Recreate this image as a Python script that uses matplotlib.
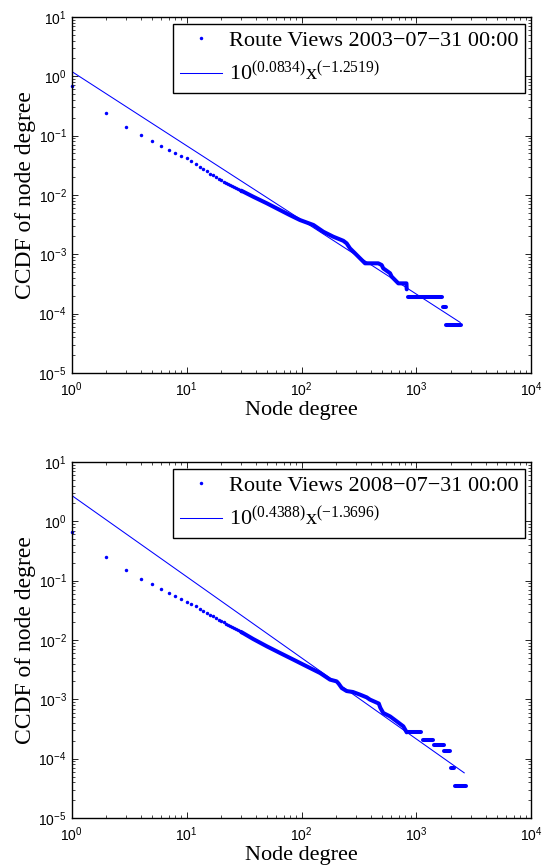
import numpy as np
import matplotlib
matplotlib.use("Agg")
import matplotlib.pyplot as plt

plt.rcParams['font.family'] = 'Liberation Sans'
plt.rcParams['mathtext.fontset'] = 'custom'
plt.rcParams['mathtext.rm'] = 'Liberation Serif'

"""DATA (read off the original figure)"""
# Route Views 2003-07-31: single dots for degree 1..30
deg_low_2003 = list(range(1, 31))
ccdf_low_2003 = [0.695, 0.243, 0.1415, 0.1025, 0.0822, 0.0676, 0.0579, 0.0509, 0.0454, 0.0415,
                 0.0378, 0.0335, 0.0300, 0.0273, 0.0250, 0.0230, 0.0215, 0.0200, 0.0187, 0.0176,
                 0.0168, 0.0160, 0.0153, 0.0147, 0.0141, 0.0135, 0.0130, 0.0126, 0.0122, 0.0118]
# dense part where the dots merge into a band
deg_mid_2003 = [30, 38, 50, 65, 79, 97, 127, 155, 189, 231, 247, 264, 292, 323, 357,
                465, 498, 514, 589, 609, 695, 818, 822]
ccdf_mid_2003 = [0.0118, 0.00935, 0.00723, 0.00557, 0.00459, 0.00378, 0.00312, 0.0024, 0.00198,
                 0.00169, 0.00153, 0.00126, 0.00104, 0.000855, 0.000705, 0.000705, 0.00066,
                 0.00058, 0.00048, 0.00042, 0.000324, 0.000324, 0.000257]
# flat runs in the tail: (first degree, last degree, ccdf)
tail_2003 = [(849, 1680, 1.93e-4), (1700, 1810, 1.28e-4), (1800, 2450, 6.43e-5)]
fit_2003 = (0.0834, -1.2519)
maxdeg_2003 = 2400

# Route Views 2008-07-31
deg_low_2008 = list(range(1, 31))
ccdf_low_2008 = [0.653, 0.247, 0.149, 0.107, 0.0867, 0.0726, 0.0621, 0.0545, 0.0485, 0.0438,
                 0.0399, 0.0369, 0.0335, 0.0308, 0.0285, 0.0266, 0.0250, 0.0235, 0.0221, 0.0209,
                 0.0199, 0.0189, 0.0180, 0.0172, 0.0164, 0.0157, 0.0151, 0.0146, 0.0141, 0.0136]
deg_mid_2008 = [30, 38, 50, 65, 85, 111, 145, 177, 202, 210, 224, 247, 280, 323, 369, 394,
                440, 470, 485, 514, 589, 673, 768, 822]
ccdf_mid_2008 = [0.0136, 0.0104, 0.00782, 0.00605, 0.00467, 0.0036, 0.00278, 0.00215, 0.00201,
                 0.00185, 0.00155, 0.00138, 0.00133, 0.0012, 0.00108, 0.00099, 0.0009, 0.00085,
                 0.00072, 0.000589, 0.000516, 0.000426, 0.000351, 0.000278]
tail_2008 = [(822, 1100, 2.78e-4), (1112, 1125, 2.38e-4), (1140, 1400, 2.07e-4),
             (1420, 1720, 1.72e-4), (1730, 1960, 1.36e-4), (1965, 1975, 1.03e-4),
             (2000, 2130, 6.88e-5), (2160, 2700, 3.42e-5)]
fit_2008 = (0.4388, -1.3696)
maxdeg_2008 = 2600

blue = (0, 0, 1)


"""SUPPORT FUNCTION"""
def drawPanel(ax, deg_low, ccdf_low, deg_mid, ccdf_mid, tail, fit, maxdeg, date):
    a, b = fit
    # Single points for small degrees
    ax.plot(deg_low, ccdf_low, 'o', ms=2.5, mec='none', color=blue, clip_on=False,
            label='Route Views ' + date + ' 00:00')
    # Dense part, dots overlap into a thick band
    ax.plot(deg_mid, ccdf_mid, '-', lw=2.9, color=blue,
            solid_capstyle='round', solid_joinstyle='round')
    for x0, x1, level in tail:
        ax.plot([x0, x1], [level, level], '-', lw=2.9, color=blue, solid_capstyle='round')

    # Fitted power law 10^a * x^b
    xf = np.array([1, maxdeg], dtype=float)
    ax.plot(xf, 10 ** a * xf ** b, '-', lw=0.75, color=blue,
            label=r'$\mathdefault{10^{(%.4f)}x^{(%.4f)}}$' % (a, b))

    ax.set_xscale('log')
    ax.set_yscale('log')
    ax.set_xlim(1, 1e4)
    ax.set_ylim(1e-5, 1e1)
    ax.set_xticks([1, 1e1, 1e2, 1e3, 1e4])
    ax.set_yticks([1e-5, 1e-4, 1e-3, 1e-2, 1e-1, 1, 1e1])
    ax.tick_params(which='both', direction='in', top=True, right=True, labelsize=10)
    ax.tick_params(which='major', length=4, width=0.6)
    ax.tick_params(which='minor', length=2.2, width=0.5)
    ax.tick_params(axis='x', pad=5)
    for sp in ax.spines.values():
        sp.set_linewidth(1.0)

    ax.set_xlabel('Node degree', family='Liberation Serif', fontsize=16, labelpad=2)
    ax.set_ylabel('CCDF of node degree', family='Liberation Serif', fontsize=17, labelpad=2)

    leg = ax.legend(loc='upper right', prop={'family': 'Liberation Serif', 'size': 16},
                    fancybox=False, framealpha=1, edgecolor='black', borderaxespad=0.3,
                    handlelength=1.9, handletextpad=0.3, borderpad=0.3, labelspacing=0.5,
                    numpoints=1, markerscale=1.0)
    leg.get_frame().set_linewidth(1.0)


"""MAIN"""
fig = plt.figure(figsize=(5.43, 8.65), dpi=100)
ax1 = fig.add_axes([0.1317, 0.5688, 0.8471, 0.4116])
ax2 = fig.add_axes([0.1317, 0.0543, 0.8471, 0.4116])

drawPanel(ax1, deg_low_2003, ccdf_low_2003, deg_mid_2003, ccdf_mid_2003, tail_2003,
          fit_2003, maxdeg_2003, '2003\u221207\u221231')
drawPanel(ax2, deg_low_2008, ccdf_low_2008, deg_mid_2008, ccdf_mid_2008, tail_2008,
          fit_2008, maxdeg_2008, '2008\u221207\u221231')

fig.savefig('out.png', dpi=100)
